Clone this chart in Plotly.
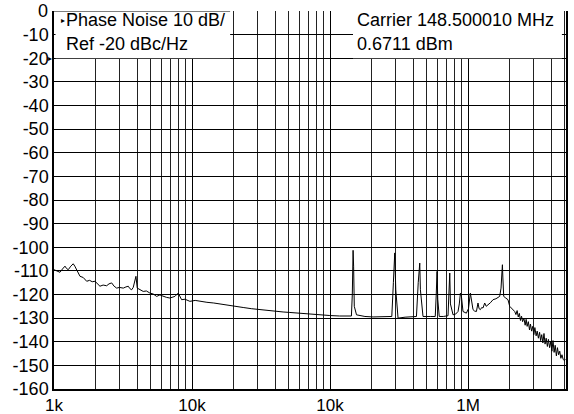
import plotly.graph_objects as go

# ---- data ----
freq_hz = [
    1000, 1050, 1105, 1152, 1201, 1233, 1269, 1324, 1378, 1415, 1460, 1543, 1628, 1725, 1811,
    1892, 1981, 2065, 2153, 2269, 2408, 2503, 2617, 2727, 2845, 2982, 3177, 3320, 3452, 3545,
    3653, 3750, 3827, 3882, 3924, 4011, 4210, 4431, 4672, 4955, 5237, 5540, 5853, 6186, 6522,
    6916, 7243, 7519, 7944, 8170, 8409, 8893, 9658, 10545, 11409, 12053, 12824, 14381, 16824,
    19576, 23483, 26874, 31022, 35238, 40980, 45720, 51162, 60436, 71396, 83640, 99681,
    117490, 137520, 142940, 145060, 146970, 148250, 149950, 155580, 179080, 205160, 243020,
    280370, 287880, 294500, 299640, 311190, 349970, 392830, 422910, 435790, 441780, 447030,
    451860, 471860, 532500, 578780, 588490, 596540, 603580, 618630, 661730, 716440, 726440,
    737270, 745880, 778950, 812820, 846370, 864720, 880940, 895770, 910100, 919820, 972920,
    1007590, 1040030, 1063700, 1086650, 1115920, 1150580, 1180960, 1202660, 1229840, 1256930,
    1284030, 1320930, 1354630, 1388210, 1452330, 1517580, 1593660, 1695990, 1735100, 1767760,
    1775470, 1789480, 1813530, 1876760, 1947600, 2004260, 2083820, 2178760,
    2225000, 2269000, 2312000, 2356000, 2399000, 2443000, 2486000, 2540000, 2595000, 2638000,
    2682000, 2736000, 2790000, 2834000, 2888000, 2943000, 2997000, 3051000, 3116000, 3171000,
    3236000, 3301000, 3356000, 3421000, 3486000, 3552000, 3617000, 3683000, 3759000, 3824000,
    3901000, 3977000, 4053000, 4129000, 4206000, 4282000, 4369000, 4446000, 4533000, 4620000,
    4708000, 4795000, 4893000, 4992000, 5079000,
]
phase_noise_dbc = [
    -109.5, -110.0, -110.6, -109.2, -108.0, -109.0, -109.5, -108.0, -107.0, -108.0, -109.5, -112.3, -112.8, -114.4, -114.0,
    -114.6, -114.4, -115.5, -116.5, -116.0, -116.3, -115.5, -115.1, -116.5, -117.3, -117.0, -117.3, -116.8, -116.5, -117.5,
    -118.0, -117.0, -115.0, -112.5, -112.3, -117.3, -118.0, -118.7, -118.5, -119.4, -119.8, -120.8, -120.2, -120.8, -121.2,
    -121.5, -121.0, -120.8, -119.4, -121.0, -122.2, -122.0, -122.9, -122.5, -122.9, -122.9, -123.3, -123.6, -124.3,
    -125.0, -125.5, -126.0, -126.4, -126.9, -127.2, -127.4, -127.6, -128.0, -128.3, -128.6, -128.9,
    -129.1, -129.3, -129.1, -120.0, -101.3, -108.0, -125.0, -128.6, -129.3, -129.5, -129.5,
    -129.3, -115.0, -102.4, -118.0, -130.0, -129.6, -129.4, -129.3, -115.0, -110.5, -106.7,
    -118.0, -129.3, -129.3, -129.3, -120.0, -110.2, -122.0, -129.3, -129.3, -129.0, -120.0,
    -110.9, -124.0, -128.6, -128.3, -127.2, -124.0, -119.4, -120.8, -125.0, -127.2, -127.9,
    -126.0, -119.4, -123.0, -126.4, -127.0, -127.2, -123.6, -126.0, -126.4, -125.5,
    -125.7, -123.6, -125.0, -124.5, -123.5, -122.2, -121.8, -120.8, -117.3, -109.0,
    -107.4, -113.0, -120.8, -121.5, -122.2, -125.0, -126.0, -127.2,
    -128.5, -126.8, -129.5, -128.0, -131.0, -129.2, -131.5, -130.0, -133.0, -130.5,
    -133.5, -131.5, -135.0, -132.5, -135.5, -133.5, -137.0, -134.0, -137.5, -135.5,
    -138.5, -136.0, -139.5, -137.0, -140.5, -136.5, -141.0, -138.5, -142.0, -139.0,
    -142.5, -140.0, -144.0, -139.5, -144.5, -141.5, -146.0, -142.5, -145.5, -144.0,
    -147.0, -145.5, -147.5, -148.0, -147.5,
]

x_tick_values = [1e3, 1e4, 1e5, 1e6]
x_tick_labels = ["1k", "10k", "10k", "1M"]
x_minor_values = [m * d for d in (1e3, 1e4, 1e5, 1e6) for m in range(2, 10)]
y_grid_values = list(range(-160, 0, 10))
y_grid_labels = [str(v) for v in y_grid_values]
y_top_label = "0"

header_left = ["Phase Noise 10 dB/", "Ref -20 dBc/Hz"]
header_right = ["Carrier 148.500010 MHz", "0.6711 dBm"]

FONT = "Liberation Sans, Arial, sans-serif"
FS = 18

fig = go.Figure()
fig.add_trace(go.Scatter(
    x=freq_hz, y=phase_noise_dbc, mode="lines",
    line=dict(color="black", width=1), showlegend=False, hoverinfo="skip",
))

fig.update_layout(
    width=574, height=414,
    margin=dict(l=54, r=8, t=11, b=25),
    paper_bgcolor="white", plot_bgcolor="white",
    font=dict(family=FONT, size=FS, color="black"),
    xaxis=dict(
        type="log", range=[3, 6.71], automargin=False,
        tickmode="array", tickvals=x_tick_values, ticktext=x_tick_labels,
        showgrid=True, gridcolor="black", gridwidth=1.2,
        minor=dict(tickmode="array", tickvals=x_minor_values, showgrid=True,
                   gridcolor="#222222", gridwidth=1, ticks=""),
        showline=True, linecolor="black", linewidth=1.5, mirror=False,
        ticks="", zeroline=False, ticklabelstandoff=0,
        tickfont=dict(family=FONT, size=17, color="black"),
    ),
    yaxis=dict(
        range=[-160, 0], automargin=False,
        tickmode="array", tickvals=y_grid_values, ticktext=y_grid_labels,
        showgrid=True, gridcolor="black", gridwidth=1.2,
        showline=True, linecolor="black", linewidth=1.5, mirror=True,
        ticks="", zeroline=False,
        tickfont=dict(family=FONT, size=FS, color="black"),
    ),
)

# "0" label at the top of the y axis (no gridline drawn there)
fig.add_annotation(xref="paper", yref="y", x=0, y=0, text=y_top_label,
                   showarrow=False, xanchor="right", yanchor="middle", xshift=-4,
                   font=dict(family=FONT, size=FS, color="black"))

# white header boxes over the grid
fig.add_shape(type="rect", xref="paper", yref="y", x0=0.003, x1=0.344, y0=-20, y1=0,
              fillcolor="white", line=dict(width=0), layer="above")
fig.add_shape(type="rect", xref="paper", yref="y", x0=0.584, x1=0.992, y0=-20, y1=0.6,
              fillcolor="white", line=dict(width=0), layer="above")
fig.add_shape(type="line", xref="paper", yref="y", x0=0, x1=0.344, y0=0, y1=0,
              line=dict(color="black", width=1.2), layer="above")

fig.add_annotation(xref="paper", yref="paper", x=0.010, y=0.975, text="▸",
                   showarrow=False, xanchor="left", yanchor="middle",
                   font=dict(family=FONT, size=8, color="black"))
fig.add_annotation(xref="paper", yref="paper", x=0.020, y=0.975, text=header_left[0],
                   showarrow=False, xanchor="left", yanchor="middle",
                   font=dict(family=FONT, size=FS, color="black"))
fig.add_annotation(xref="paper", yref="paper", x=0.020, y=0.912, text=header_left[1],
                   showarrow=False, xanchor="left", yanchor="middle",
                   font=dict(family=FONT, size=FS, color="black"))
fig.add_annotation(xref="paper", yref="paper", x=0.588, y=0.977, text=header_right[0],
                   showarrow=False, xanchor="left", yanchor="middle",
                   font=dict(family=FONT, size=FS, color="black"))
fig.add_annotation(xref="paper", yref="paper", x=0.588, y=0.914, text=header_right[1],
                   showarrow=False, xanchor="left", yanchor="middle",
                   font=dict(family=FONT, size=FS, color="black"))
fig.add_annotation(xref="paper", yref="y", x=0.0, y=-20, text="▸",
                   showarrow=False, xanchor="right", yanchor="middle",
                   font=dict(family=FONT, size=8, color="black"))

fig.write_html("out.html", config={"displayModeBar": False},
               post_script="document.body.style.margin='0';")
